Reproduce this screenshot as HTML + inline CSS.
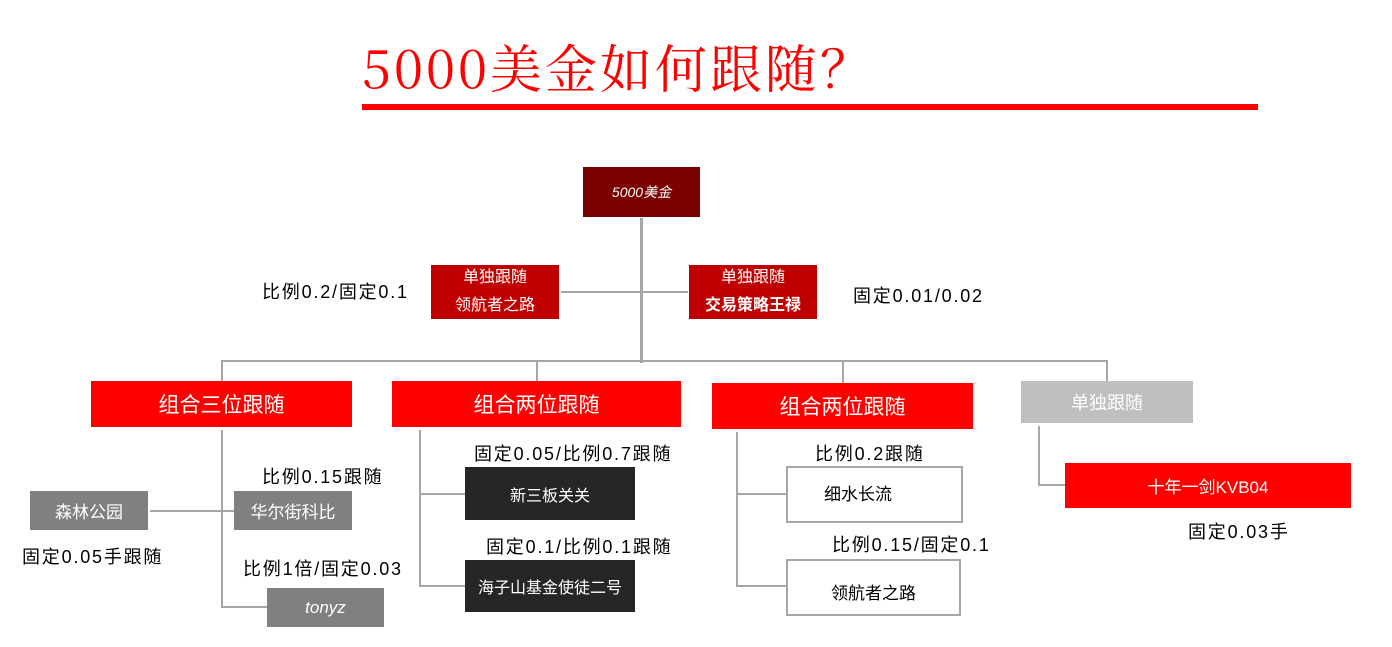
<!DOCTYPE html>
<html><head><meta charset="utf-8"><style>
body{margin:0;width:1392px;height:647px;background:#fff;position:relative;overflow:hidden;font-family:"Liberation Sans","Noto Sans CJK SC",sans-serif}
.a{position:absolute}
.b{position:absolute;display:flex;align-items:center;justify-content:center;color:#fff;text-align:center}
.l{position:absolute;background:#a6a6a6}
.t{position:absolute;font-size:18px;color:#000;white-space:nowrap;line-height:20px;letter-spacing:1.8px}
</style></head><body>
<div class="a" style="left:362px;top:34px;font-family:'Noto Serif CJK SC','Liberation Serif',serif;font-size:52px;color:#f00;line-height:64px;white-space:nowrap;letter-spacing:3px">5000美金如何跟随？</div>
<div class="a" style="left:362px;top:104px;width:896px;height:6px;background:#f00"></div>

<div class="l" style="left:640px;top:218px;width:3px;height:145px"></div>
<div class="l" style="left:561px;top:291px;width:127px;height:2px"></div>
<div class="l" style="left:221px;top:360px;width:887px;height:2px"></div>
<div class="l" style="left:221px;top:360px;width:2px;height:21px"></div>
<div class="l" style="left:536px;top:360px;width:2px;height:21px"></div>
<div class="l" style="left:842px;top:360px;width:2px;height:23px"></div>
<div class="l" style="left:1106px;top:360px;width:2px;height:21px"></div>

<div class="l" style="left:221px;top:430px;width:2px;height:178px"></div>
<div class="l" style="left:221px;top:606px;width:46px;height:2px"></div>
<div class="l" style="left:150px;top:510px;width:84px;height:2px"></div>
<div class="l" style="left:419px;top:430px;width:2px;height:156px"></div>
<div class="l" style="left:419px;top:493px;width:46px;height:2px"></div>
<div class="l" style="left:419px;top:585px;width:46px;height:2px"></div>
<div class="l" style="left:736px;top:432px;width:2px;height:154px"></div>
<div class="l" style="left:736px;top:493px;width:50px;height:2px"></div>
<div class="l" style="left:736px;top:585px;width:50px;height:2px"></div>
<div class="l" style="left:1038px;top:426px;width:2px;height:60px"></div>
<div class="l" style="left:1038px;top:484px;width:27px;height:2px"></div>

<div class="b" style="left:583px;top:167px;width:117px;height:50px;background:#7b0000;font-size:14px;font-style:italic">5000美金</div>
<div class="b" style="left:431px;top:265px;width:128px;height:54px;background:#c00000;font-size:16px;flex-direction:column;line-height:28px"><div>单独跟随</div><div>领航者之路</div></div>
<div class="b" style="left:689px;top:265px;width:128px;height:54px;background:#c00000;font-size:16px;flex-direction:column;line-height:28px"><div>单独跟随</div><div style="font-weight:bold">交易策略王禄</div></div>

<div class="b" style="left:91px;top:381px;width:261px;height:46px;background:#f00;font-size:21px">组合三位跟随</div>
<div class="b" style="left:392px;top:381px;width:289px;height:46px;background:#f00;font-size:21px">组合两位跟随</div>
<div class="b" style="left:712px;top:383px;width:261px;height:46px;background:#f00;font-size:21px">组合两位跟随</div>
<div class="b" style="left:1021px;top:381px;width:172px;height:42px;background:#bfbfbf;font-size:18px">单独跟随</div>

<div class="b" style="left:30px;top:491px;width:118px;height:39px;background:#808080;font-size:17px">森林公园</div>
<div class="b" style="left:234px;top:491px;width:118px;height:39px;background:#808080;font-size:17px">华尔街科比</div>
<div class="b" style="left:267px;top:588px;width:117px;height:39px;background:#808080;font-size:17px;font-style:italic">tonyz</div>
<div class="b" style="left:465px;top:467px;width:170px;height:53px;background:#262626;font-size:16px">新三板关关</div>
<div class="b" style="left:465px;top:560px;width:170px;height:52px;background:#262626;font-size:16px">海子山基金使徒二号</div>
<div class="b" style="left:786px;top:466px;width:137px;height:48px;border:2px solid #a6a6a6;background:#fff;color:#000;font-size:17px;justify-content:flex-start;padding-left:36px;padding-bottom:5px">细水长流</div>
<div class="b" style="left:786px;top:559px;width:171px;height:45px;border:2px solid #a6a6a6;background:#fff;color:#000;font-size:17px;padding-top:8px">领航者之路</div>
<div class="b" style="left:1065px;top:463px;width:286px;height:45px;background:#f00;font-size:17px">十年一剑KVB04</div>

<div class="t" style="left:262px;top:282px">比例0.2/固定0.1</div>
<div class="t" style="left:853px;top:286px">固定0.01/0.02</div>
<div class="t" style="left:262px;top:467px">比例0.15跟随</div>
<div class="t" style="left:22px;top:547px">固定0.05手跟随</div>
<div class="t" style="left:243px;top:559px">比例1倍/固定0.03</div>
<div class="t" style="left:474px;top:444px">固定0.05/比例0.7跟随</div>
<div class="t" style="left:486px;top:537px">固定0.1/比例0.1跟随</div>
<div class="t" style="left:815px;top:444px">比例0.2跟随</div>
<div class="t" style="left:832px;top:535px">比例0.15/固定0.1</div>
<div class="t" style="left:1188px;top:522px">固定0.03手</div>
</body></html>
